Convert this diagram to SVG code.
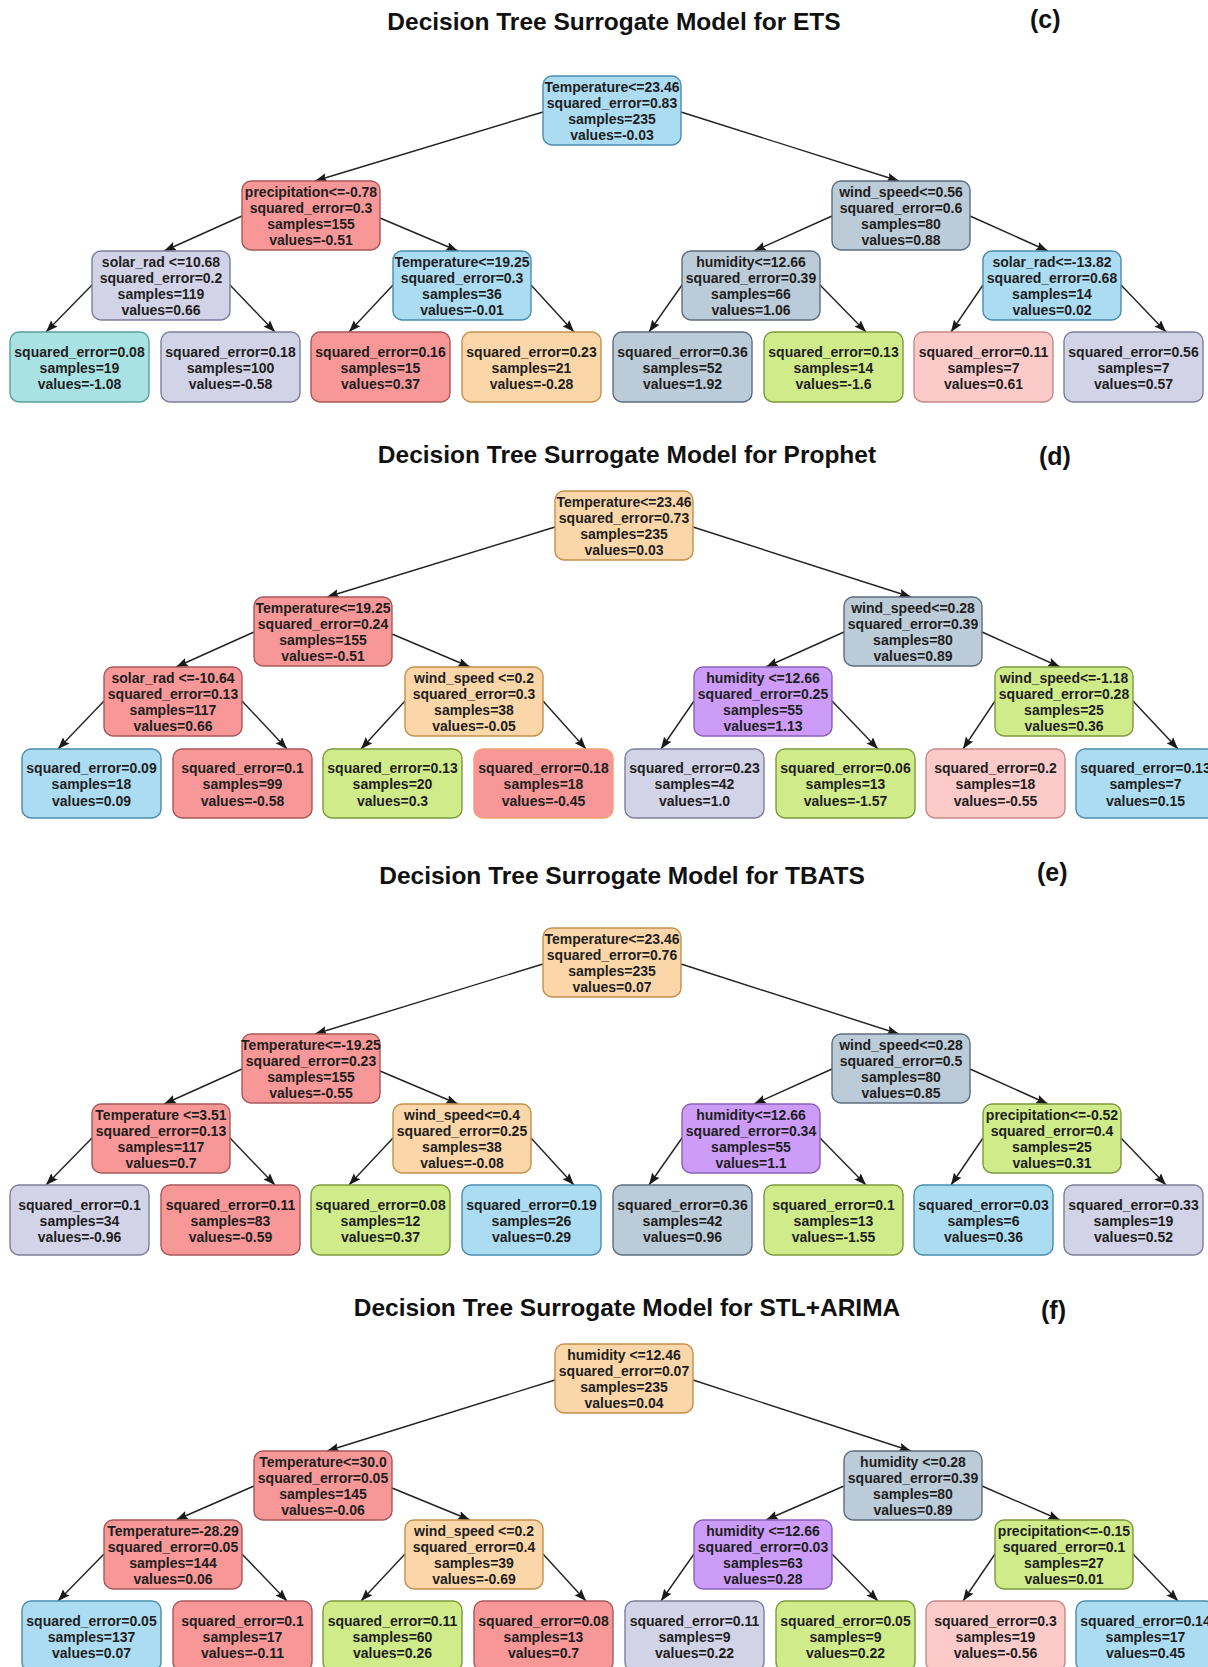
<svg xmlns="http://www.w3.org/2000/svg" width="1208" height="1667" viewBox="0 0 1208 1667">
<defs>
<marker id="ah" viewBox="0 0 12 10" refX="12" refY="5" markerWidth="12" markerHeight="10" markerUnits="userSpaceOnUse" orient="auto"><path d="M0,0.5 L12,5 L0,9.5 L2,5 z" fill="#1a1a1a"/></marker>
<style>
.title{font-family:"Liberation Sans",Arial,sans-serif;font-size:24.5px;font-weight:bold;fill:#111}
.lab{font-family:"Liberation Sans",Arial,sans-serif;font-size:25px;font-weight:bold;fill:#111}
.node rect{stroke-width:1.4}
.node text{font-family:"Liberation Sans",Arial,sans-serif;font-size:14px;font-weight:bold;fill:#1e1e1e;text-anchor:middle}
.edges path{stroke:#222;stroke-width:1.4;fill:none;marker-end:url(#ah)}
.blue{fill:#acdcf2;stroke:#4a8cae}
.red{fill:#f79797;stroke:#a85858}
.lav{fill:#d3d3e8;stroke:#7e7e9c}
.teal{fill:#a9e2e2;stroke:#5a9e9e}
.orange{fill:#fad6a8;stroke:#c4904c}
.gray{fill:#bccbd8;stroke:#5c6d7e}
.green{fill:#d0ec8a;stroke:#7d9a3c}
.pink{fill:#fdcaca;stroke:#c88888}
.purple{fill:#cc9cf8;stroke:#8a60b8}
.redo{fill:#f79797;stroke:#f4a070}
</style>
</defs>
<rect x="0" y="0" width="1208" height="1667" fill="#ffffff"/>

<!-- Titles -->
<text class="title" x="614" y="30" text-anchor="middle">Decision Tree Surrogate Model for ETS</text>
<text class="lab" x="1030" y="28">(c)</text>
<text class="title" x="627" y="463" text-anchor="middle">Decision Tree Surrogate Model for Prophet</text>
<text class="lab" x="1039" y="465">(d)</text>
<text class="title" x="622" y="884" text-anchor="middle">Decision Tree Surrogate Model for TBATS</text>
<text class="lab" x="1037" y="881">(e)</text>
<text class="title" x="627" y="1316" text-anchor="middle">Decision Tree Surrogate Model for STL+ARIMA</text>
<text class="lab" x="1041" y="1319">(f)</text>

<g class="edges" id="connectors">
<!-- tree c -->
<path d="M543,112 L315,181"/>
<path d="M681,112 L899,181"/>
<path d="M242,216 L164,251"/>
<path d="M380,218 L458,251"/>
<path d="M832,216 L754,251"/>
<path d="M970,216 L1048,251"/>
<path d="M92,285 L46,332"/>
<path d="M230,285 L275,332"/>
<path d="M393,285 L349,332"/>
<path d="M531,285 L574,332"/>
<path d="M682,285 L649,332"/>
<path d="M820,285 L866,332"/>
<path d="M983,285 L951,332"/>
<path d="M1121,285 L1166,332"/>
<!-- tree d -->
<path d="M555,527 L327,597"/>
<path d="M693,527 L911,597"/>
<path d="M254,632 L176,667"/>
<path d="M392,634 L470,667"/>
<path d="M844,632 L766,667"/>
<path d="M982,632 L1060,667"/>
<path d="M104,701 L58,749"/>
<path d="M242,701 L287,749"/>
<path d="M405,701 L361,749"/>
<path d="M543,701 L586,749"/>
<path d="M694,701 L661,749"/>
<path d="M832,701 L878,749"/>
<path d="M995,701 L963,749"/>
<path d="M1133,701 L1178,749"/>
<!-- tree e -->
<path d="M543,964 L315,1034"/>
<path d="M681,964 L899,1034"/>
<path d="M242,1069 L164,1104"/>
<path d="M380,1071 L458,1104"/>
<path d="M832,1069 L754,1104"/>
<path d="M970,1069 L1048,1104"/>
<path d="M92,1138 L46,1185"/>
<path d="M230,1138 L275,1185"/>
<path d="M393,1138 L349,1185"/>
<path d="M531,1138 L574,1185"/>
<path d="M682,1138 L649,1185"/>
<path d="M820,1138 L866,1185"/>
<path d="M983,1138 L951,1185"/>
<path d="M1121,1138 L1166,1185"/>
<!-- tree f -->
<path d="M555,1380 L327,1451"/>
<path d="M693,1380 L911,1451"/>
<path d="M254,1486 L176,1520"/>
<path d="M392,1488 L470,1520"/>
<path d="M844,1486 L766,1520"/>
<path d="M982,1486 L1060,1520"/>
<path d="M104,1554 L58,1601"/>
<path d="M242,1554 L287,1601"/>
<path d="M405,1554 L361,1601"/>
<path d="M543,1554 L586,1601"/>
<path d="M694,1554 L661,1601"/>
<path d="M832,1554 L878,1601"/>
<path d="M995,1554 L963,1601"/>
<path d="M1133,1554 L1178,1601"/>
</g>

<!-- ===== Tree (c) ETS ===== -->
<g id="c-root" class="node"><rect class="blue" x="543" y="76" width="138" height="69" rx="9"/><text x="612" y="91.5"><tspan x="612">Temperature&lt;=23.46</tspan><tspan x="612" dy="16.3">squared_error=0.83</tspan><tspan x="612" dy="16.3">samples=235</tspan><tspan x="612" dy="16.3">values=-0.03</tspan></text></g>
<g id="c-n1" class="node"><rect class="red" x="242" y="181" width="138" height="69" rx="9"/><text x="311" y="196.5"><tspan x="311">precipitation&lt;=-0.78</tspan><tspan x="311" dy="16.3">squared_error=0.3</tspan><tspan x="311" dy="16.3">samples=155</tspan><tspan x="311" dy="16.3">values=-0.51</tspan></text></g>
<g id="c-n2" class="node"><rect class="gray" x="832" y="181" width="138" height="69" rx="9"/><text x="901" y="196.5"><tspan x="901">wind_speed&lt;=0.56</tspan><tspan x="901" dy="16.3">squared_error=0.6</tspan><tspan x="901" dy="16.3">samples=80</tspan><tspan x="901" dy="16.3">values=0.88</tspan></text></g>
<g id="c-n3" class="node"><rect class="lav" x="92" y="251" width="138" height="69" rx="9"/><text x="161" y="266.5"><tspan x="161">solar_rad &lt;=10.68</tspan><tspan x="161" dy="16.3">squared_error=0.2</tspan><tspan x="161" dy="16.3">samples=119</tspan><tspan x="161" dy="16.3">values=0.66</tspan></text></g>
<g id="c-n4" class="node"><rect class="blue" x="393" y="251" width="138" height="69" rx="9"/><text x="462" y="266.5"><tspan x="462">Temperature&lt;=19.25</tspan><tspan x="462" dy="16.3">squared_error=0.3</tspan><tspan x="462" dy="16.3">samples=36</tspan><tspan x="462" dy="16.3">values=-0.01</tspan></text></g>
<g id="c-n5" class="node"><rect class="gray" x="682" y="251" width="138" height="69" rx="9"/><text x="751" y="266.5"><tspan x="751">humidity&lt;=12.66</tspan><tspan x="751" dy="16.3">squared_error=0.39</tspan><tspan x="751" dy="16.3">samples=66</tspan><tspan x="751" dy="16.3">values=1.06</tspan></text></g>
<g id="c-n6" class="node"><rect class="blue" x="983" y="251" width="138" height="69" rx="9"/><text x="1052" y="266.5"><tspan x="1052">solar_rad&lt;=-13.82</tspan><tspan x="1052" dy="16.3">squared_error=0.68</tspan><tspan x="1052" dy="16.3">samples=14</tspan><tspan x="1052" dy="16.3">values=0.02</tspan></text></g>
<g id="c-l1" class="node"><rect class="teal" x="10" y="332" width="139" height="70" rx="9"/><text x="79.5" y="356.5"><tspan x="79.5">squared_error=0.08</tspan><tspan x="79.5" dy="16.3">samples=19</tspan><tspan x="79.5" dy="16.3">values=-1.08</tspan></text></g>
<g id="c-l2" class="node"><rect class="lav" x="161" y="332" width="139" height="70" rx="9"/><text x="230.5" y="356.5"><tspan x="230.5">squared_error=0.18</tspan><tspan x="230.5" dy="16.3">samples=100</tspan><tspan x="230.5" dy="16.3">values=-0.58</tspan></text></g>
<g id="c-l3" class="node"><rect class="red" x="311" y="332" width="139" height="70" rx="9"/><text x="380.5" y="356.5"><tspan x="380.5">squared_error=0.16</tspan><tspan x="380.5" dy="16.3">samples=15</tspan><tspan x="380.5" dy="16.3">values=0.37</tspan></text></g>
<g id="c-l4" class="node"><rect class="orange" x="462" y="332" width="139" height="70" rx="9"/><text x="531.5" y="356.5"><tspan x="531.5">squared_error=0.23</tspan><tspan x="531.5" dy="16.3">samples=21</tspan><tspan x="531.5" dy="16.3">values=-0.28</tspan></text></g>
<g id="c-l5" class="node"><rect class="gray" x="613" y="332" width="139" height="70" rx="9"/><text x="682.5" y="356.5"><tspan x="682.5">squared_error=0.36</tspan><tspan x="682.5" dy="16.3">samples=52</tspan><tspan x="682.5" dy="16.3">values=1.92</tspan></text></g>
<g id="c-l6" class="node"><rect class="green" x="764" y="332" width="139" height="70" rx="9"/><text x="833.5" y="356.5"><tspan x="833.5">squared_error=0.13</tspan><tspan x="833.5" dy="16.3">samples=14</tspan><tspan x="833.5" dy="16.3">values=-1.6</tspan></text></g>
<g id="c-l7" class="node"><rect class="pink" x="914" y="332" width="139" height="70" rx="9"/><text x="983.5" y="356.5"><tspan x="983.5">squared_error=0.11</tspan><tspan x="983.5" dy="16.3">samples=7</tspan><tspan x="983.5" dy="16.3">values=0.61</tspan></text></g>
<g id="c-l8" class="node"><rect class="lav" x="1064" y="332" width="139" height="70" rx="9"/><text x="1133.5" y="356.5"><tspan x="1133.5">squared_error=0.56</tspan><tspan x="1133.5" dy="16.3">samples=7</tspan><tspan x="1133.5" dy="16.3">values=0.57</tspan></text></g>

<!-- ===== Tree (d) Prophet ===== -->
<g id="d-root" class="node"><rect class="orange" x="555" y="491" width="138" height="69" rx="9"/><text x="624" y="506.5"><tspan x="624">Temperature&lt;=23.46</tspan><tspan x="624" dy="16.3">squared_error=0.73</tspan><tspan x="624" dy="16.3">samples=235</tspan><tspan x="624" dy="16.3">values=0.03</tspan></text></g>
<g id="d-n1" class="node"><rect class="red" x="254" y="597" width="138" height="69" rx="9"/><text x="323" y="612.5"><tspan x="323">Temperature&lt;=19.25</tspan><tspan x="323" dy="16.3">squared_error=0.24</tspan><tspan x="323" dy="16.3">samples=155</tspan><tspan x="323" dy="16.3">values=-0.51</tspan></text></g>
<g id="d-n2" class="node"><rect class="gray" x="844" y="597" width="138" height="69" rx="9"/><text x="913" y="612.5"><tspan x="913">wind_speed&lt;=0.28</tspan><tspan x="913" dy="16.3">squared_error=0.39</tspan><tspan x="913" dy="16.3">samples=80</tspan><tspan x="913" dy="16.3">values=0.89</tspan></text></g>
<g id="d-n3" class="node"><rect class="red" x="104" y="667" width="138" height="69" rx="9"/><text x="173" y="682.5"><tspan x="173">solar_rad &lt;=-10.64</tspan><tspan x="173" dy="16.3">squared_error=0.13</tspan><tspan x="173" dy="16.3">samples=117</tspan><tspan x="173" dy="16.3">values=0.66</tspan></text></g>
<g id="d-n4" class="node"><rect class="orange" x="405" y="667" width="138" height="69" rx="9"/><text x="474" y="682.5"><tspan x="474">wind_speed &lt;=0.2</tspan><tspan x="474" dy="16.3">squared_error=0.3</tspan><tspan x="474" dy="16.3">samples=38</tspan><tspan x="474" dy="16.3">values=-0.05</tspan></text></g>
<g id="d-n5" class="node"><rect class="purple" x="694" y="667" width="138" height="69" rx="9"/><text x="763" y="682.5"><tspan x="763">humidity &lt;=12.66</tspan><tspan x="763" dy="16.3">squared_error=0.25</tspan><tspan x="763" dy="16.3">samples=55</tspan><tspan x="763" dy="16.3">values=1.13</tspan></text></g>
<g id="d-n6" class="node"><rect class="green" x="995" y="667" width="138" height="69" rx="9"/><text x="1064" y="682.5"><tspan x="1064">wind_speed&lt;=-1.18</tspan><tspan x="1064" dy="16.3">squared_error=0.28</tspan><tspan x="1064" dy="16.3">samples=25</tspan><tspan x="1064" dy="16.3">values=0.36</tspan></text></g>
<g id="d-l1" class="node"><rect class="blue" x="22" y="749" width="139" height="69" rx="9"/><text x="91.5" y="773"><tspan x="91.5">squared_error=0.09</tspan><tspan x="91.5" dy="16.3">samples=18</tspan><tspan x="91.5" dy="16.3">values=0.09</tspan></text></g>
<g id="d-l2" class="node"><rect class="red" x="173" y="749" width="139" height="69" rx="9"/><text x="242.5" y="773"><tspan x="242.5">squared_error=0.1</tspan><tspan x="242.5" dy="16.3">samples=99</tspan><tspan x="242.5" dy="16.3">values=-0.58</tspan></text></g>
<g id="d-l3" class="node"><rect class="green" x="323" y="749" width="139" height="69" rx="9"/><text x="392.5" y="773"><tspan x="392.5">squared_error=0.13</tspan><tspan x="392.5" dy="16.3">samples=20</tspan><tspan x="392.5" dy="16.3">values=0.3</tspan></text></g>
<g id="d-l4" class="node"><rect class="redo" x="474" y="749" width="139" height="69" rx="9"/><text x="543.5" y="773"><tspan x="543.5">squared_error=0.18</tspan><tspan x="543.5" dy="16.3">samples=18</tspan><tspan x="543.5" dy="16.3">values=-0.45</tspan></text></g>
<g id="d-l5" class="node"><rect class="lav" x="625" y="749" width="139" height="69" rx="9"/><text x="694.5" y="773"><tspan x="694.5">squared_error=0.23</tspan><tspan x="694.5" dy="16.3">samples=42</tspan><tspan x="694.5" dy="16.3">values=1.0</tspan></text></g>
<g id="d-l6" class="node"><rect class="green" x="776" y="749" width="139" height="69" rx="9"/><text x="845.5" y="773"><tspan x="845.5">squared_error=0.06</tspan><tspan x="845.5" dy="16.3">samples=13</tspan><tspan x="845.5" dy="16.3">values=-1.57</tspan></text></g>
<g id="d-l7" class="node"><rect class="pink" x="926" y="749" width="139" height="69" rx="9"/><text x="995.5" y="773"><tspan x="995.5">squared_error=0.2</tspan><tspan x="995.5" dy="16.3">samples=18</tspan><tspan x="995.5" dy="16.3">values=-0.55</tspan></text></g>
<g id="d-l8" class="node"><rect class="blue" x="1076" y="749" width="139" height="69" rx="9"/><text x="1145.5" y="773"><tspan x="1145.5">squared_error=0.13</tspan><tspan x="1145.5" dy="16.3">samples=7</tspan><tspan x="1145.5" dy="16.3">values=0.15</tspan></text></g>

<!-- ===== Tree (e) TBATS ===== -->
<g id="e-root" class="node"><rect class="orange" x="543" y="928" width="138" height="69" rx="9"/><text x="612" y="943.5"><tspan x="612">Temperature&lt;=23.46</tspan><tspan x="612" dy="16.3">squared_error=0.76</tspan><tspan x="612" dy="16.3">samples=235</tspan><tspan x="612" dy="16.3">values=0.07</tspan></text></g>
<g id="e-n1" class="node"><rect class="red" x="242" y="1034" width="138" height="69" rx="9"/><text x="311" y="1049.5"><tspan x="311">Temperature&lt;=-19.25</tspan><tspan x="311" dy="16.3">squared_error=0.23</tspan><tspan x="311" dy="16.3">samples=155</tspan><tspan x="311" dy="16.3">values=-0.55</tspan></text></g>
<g id="e-n2" class="node"><rect class="gray" x="832" y="1034" width="138" height="69" rx="9"/><text x="901" y="1049.5"><tspan x="901">wind_speed&lt;=0.28</tspan><tspan x="901" dy="16.3">squared_error=0.5</tspan><tspan x="901" dy="16.3">samples=80</tspan><tspan x="901" dy="16.3">values=0.85</tspan></text></g>
<g id="e-n3" class="node"><rect class="red" x="92" y="1104" width="138" height="69" rx="9"/><text x="161" y="1119.5"><tspan x="161">Temperature &lt;=3.51</tspan><tspan x="161" dy="16.3">squared_error=0.13</tspan><tspan x="161" dy="16.3">samples=117</tspan><tspan x="161" dy="16.3">values=0.7</tspan></text></g>
<g id="e-n4" class="node"><rect class="orange" x="393" y="1104" width="138" height="69" rx="9"/><text x="462" y="1119.5"><tspan x="462">wind_speed&lt;=0.4</tspan><tspan x="462" dy="16.3">squared_error=0.25</tspan><tspan x="462" dy="16.3">samples=38</tspan><tspan x="462" dy="16.3">values=-0.08</tspan></text></g>
<g id="e-n5" class="node"><rect class="purple" x="682" y="1104" width="138" height="69" rx="9"/><text x="751" y="1119.5"><tspan x="751">humidity&lt;=12.66</tspan><tspan x="751" dy="16.3">squared_error=0.34</tspan><tspan x="751" dy="16.3">samples=55</tspan><tspan x="751" dy="16.3">values=1.1</tspan></text></g>
<g id="e-n6" class="node"><rect class="green" x="983" y="1104" width="138" height="69" rx="9"/><text x="1052" y="1119.5"><tspan x="1052">precipitation&lt;=-0.52</tspan><tspan x="1052" dy="16.3">squared_error=0.4</tspan><tspan x="1052" dy="16.3">samples=25</tspan><tspan x="1052" dy="16.3">values=0.31</tspan></text></g>
<g id="e-l1" class="node"><rect class="lav" x="10" y="1185" width="139" height="70" rx="9"/><text x="79.5" y="1209.5"><tspan x="79.5">squared_error=0.1</tspan><tspan x="79.5" dy="16.3">samples=34</tspan><tspan x="79.5" dy="16.3">values=-0.96</tspan></text></g>
<g id="e-l2" class="node"><rect class="red" x="161" y="1185" width="139" height="70" rx="9"/><text x="230.5" y="1209.5"><tspan x="230.5">squared_error=0.11</tspan><tspan x="230.5" dy="16.3">samples=83</tspan><tspan x="230.5" dy="16.3">values=-0.59</tspan></text></g>
<g id="e-l3" class="node"><rect class="green" x="311" y="1185" width="139" height="70" rx="9"/><text x="380.5" y="1209.5"><tspan x="380.5">squared_error=0.08</tspan><tspan x="380.5" dy="16.3">samples=12</tspan><tspan x="380.5" dy="16.3">values=0.37</tspan></text></g>
<g id="e-l4" class="node"><rect class="blue" x="462" y="1185" width="139" height="70" rx="9"/><text x="531.5" y="1209.5"><tspan x="531.5">squared_error=0.19</tspan><tspan x="531.5" dy="16.3">samples=26</tspan><tspan x="531.5" dy="16.3">values=0.29</tspan></text></g>
<g id="e-l5" class="node"><rect class="gray" x="613" y="1185" width="139" height="70" rx="9"/><text x="682.5" y="1209.5"><tspan x="682.5">squared_error=0.36</tspan><tspan x="682.5" dy="16.3">samples=42</tspan><tspan x="682.5" dy="16.3">values=0.96</tspan></text></g>
<g id="e-l6" class="node"><rect class="green" x="764" y="1185" width="139" height="70" rx="9"/><text x="833.5" y="1209.5"><tspan x="833.5">squared_error=0.1</tspan><tspan x="833.5" dy="16.3">samples=13</tspan><tspan x="833.5" dy="16.3">values=-1.55</tspan></text></g>
<g id="e-l7" class="node"><rect class="blue" x="914" y="1185" width="139" height="70" rx="9"/><text x="983.5" y="1209.5"><tspan x="983.5">squared_error=0.03</tspan><tspan x="983.5" dy="16.3">samples=6</tspan><tspan x="983.5" dy="16.3">values=0.36</tspan></text></g>
<g id="e-l8" class="node"><rect class="lav" x="1064" y="1185" width="139" height="70" rx="9"/><text x="1133.5" y="1209.5"><tspan x="1133.5">squared_error=0.33</tspan><tspan x="1133.5" dy="16.3">samples=19</tspan><tspan x="1133.5" dy="16.3">values=0.52</tspan></text></g>

<!-- ===== Tree (f) STL+ARIMA ===== -->
<g id="f-root" class="node"><rect class="orange" x="555" y="1344" width="138" height="69" rx="9"/><text x="624" y="1359.5"><tspan x="624">humidity &lt;=12.46</tspan><tspan x="624" dy="16.3">squared_error=0.07</tspan><tspan x="624" dy="16.3">samples=235</tspan><tspan x="624" dy="16.3">values=0.04</tspan></text></g>
<g id="f-n1" class="node"><rect class="red" x="254" y="1451" width="138" height="69" rx="9"/><text x="323" y="1466.5"><tspan x="323">Temperature&lt;=30.0</tspan><tspan x="323" dy="16.3">squared_error=0.05</tspan><tspan x="323" dy="16.3">samples=145</tspan><tspan x="323" dy="16.3">values=-0.06</tspan></text></g>
<g id="f-n2" class="node"><rect class="gray" x="844" y="1451" width="138" height="69" rx="9"/><text x="913" y="1466.5"><tspan x="913">humidity &lt;=0.28</tspan><tspan x="913" dy="16.3">squared_error=0.39</tspan><tspan x="913" dy="16.3">samples=80</tspan><tspan x="913" dy="16.3">values=0.89</tspan></text></g>
<g id="f-n3" class="node"><rect class="red" x="104" y="1520" width="138" height="69" rx="9"/><text x="173" y="1535.5"><tspan x="173">Temperature=-28.29</tspan><tspan x="173" dy="16.3">squared_error=0.05</tspan><tspan x="173" dy="16.3">samples=144</tspan><tspan x="173" dy="16.3">values=0.06</tspan></text></g>
<g id="f-n4" class="node"><rect class="orange" x="405" y="1520" width="138" height="69" rx="9"/><text x="474" y="1535.5"><tspan x="474">wind_speed &lt;=0.2</tspan><tspan x="474" dy="16.3">squared_error=0.4</tspan><tspan x="474" dy="16.3">samples=39</tspan><tspan x="474" dy="16.3">values=-0.69</tspan></text></g>
<g id="f-n5" class="node"><rect class="purple" x="694" y="1520" width="138" height="69" rx="9"/><text x="763" y="1535.5"><tspan x="763">humidity &lt;=12.66</tspan><tspan x="763" dy="16.3">squared_error=0.03</tspan><tspan x="763" dy="16.3">samples=63</tspan><tspan x="763" dy="16.3">values=0.28</tspan></text></g>
<g id="f-n6" class="node"><rect class="green" x="995" y="1520" width="138" height="69" rx="9"/><text x="1064" y="1535.5"><tspan x="1064">precipitation&lt;=-0.15</tspan><tspan x="1064" dy="16.3">squared_error=0.1</tspan><tspan x="1064" dy="16.3">samples=27</tspan><tspan x="1064" dy="16.3">values=0.01</tspan></text></g>
<g id="f-l1" class="node"><rect class="blue" x="22" y="1601" width="139" height="70" rx="9"/><text x="91.5" y="1625.5"><tspan x="91.5">squared_error=0.05</tspan><tspan x="91.5" dy="16.3">samples=137</tspan><tspan x="91.5" dy="16.3">values=0.07</tspan></text></g>
<g id="f-l2" class="node"><rect class="red" x="173" y="1601" width="139" height="70" rx="9"/><text x="242.5" y="1625.5"><tspan x="242.5">squared_error=0.1</tspan><tspan x="242.5" dy="16.3">samples=17</tspan><tspan x="242.5" dy="16.3">values=-0.11</tspan></text></g>
<g id="f-l3" class="node"><rect class="green" x="323" y="1601" width="139" height="70" rx="9"/><text x="392.5" y="1625.5"><tspan x="392.5">squared_error=0.11</tspan><tspan x="392.5" dy="16.3">samples=60</tspan><tspan x="392.5" dy="16.3">values=0.26</tspan></text></g>
<g id="f-l4" class="node"><rect class="red" x="474" y="1601" width="139" height="70" rx="9"/><text x="543.5" y="1625.5"><tspan x="543.5">squared_error=0.08</tspan><tspan x="543.5" dy="16.3">samples=13</tspan><tspan x="543.5" dy="16.3">values=0.7</tspan></text></g>
<g id="f-l5" class="node"><rect class="lav" x="625" y="1601" width="139" height="70" rx="9"/><text x="694.5" y="1625.5"><tspan x="694.5">squared_error=0.11</tspan><tspan x="694.5" dy="16.3">samples=9</tspan><tspan x="694.5" dy="16.3">values=0.22</tspan></text></g>
<g id="f-l6" class="node"><rect class="green" x="776" y="1601" width="139" height="70" rx="9"/><text x="845.5" y="1625.5"><tspan x="845.5">squared_error=0.05</tspan><tspan x="845.5" dy="16.3">samples=9</tspan><tspan x="845.5" dy="16.3">values=0.22</tspan></text></g>
<g id="f-l7" class="node"><rect class="pink" x="926" y="1601" width="139" height="70" rx="9"/><text x="995.5" y="1625.5"><tspan x="995.5">squared_error=0.3</tspan><tspan x="995.5" dy="16.3">samples=19</tspan><tspan x="995.5" dy="16.3">values=-0.56</tspan></text></g>
<g id="f-l8" class="node"><rect class="blue" x="1076" y="1601" width="139" height="70" rx="9"/><text x="1145.5" y="1625.5"><tspan x="1145.5">squared_error=0.14</tspan><tspan x="1145.5" dy="16.3">samples=17</tspan><tspan x="1145.5" dy="16.3">values=0.45</tspan></text></g>
</svg>
